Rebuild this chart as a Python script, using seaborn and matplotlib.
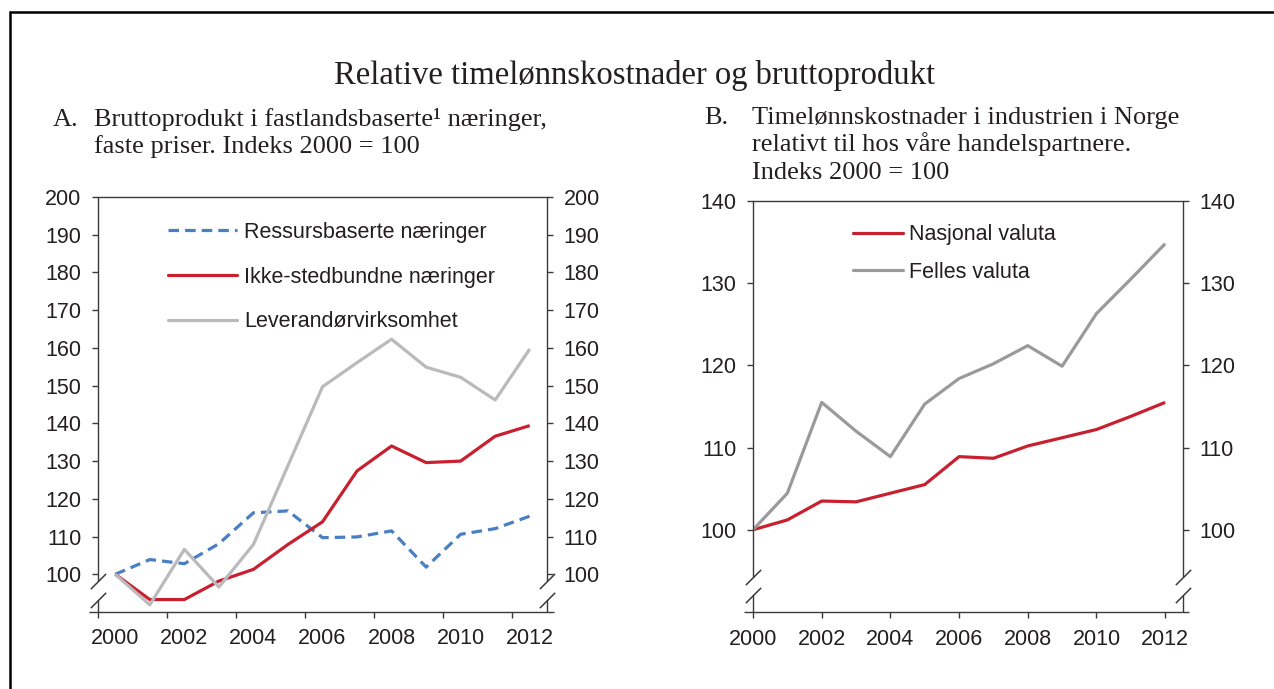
import matplotlib
matplotlib.use("Agg")
import pandas as pd
import matplotlib.pyplot as plt
import matplotlib.lines as mlines
import seaborn as sns

# Data
aar = list(range(2000, 2013))

# A. Bruttoprodukt, indeks 2000 = 100 (plotted at mid-year)
ressurs = [100, 103.9, 102.8, 108.1, 116.3, 116.8, 109.7, 109.9, 111.5, 101.9, 110.6, 112.1, 115.4]
ikke_stedbundne = [100, 93.3, 93.3, 98.2, 101.3, 107.9, 113.9, 127.4, 134.0, 129.6, 130.0, 136.6, 139.4]
leverandor = [100, 91.9, 106.6, 96.6, 107.9, 128.8, 149.7, 156.1, 162.3, 154.9, 152.2, 146.2, 159.7]
navn_a = ["Ressursbaserte næringer", "Ikke-stedbundne næringer", "Leverandørvirksomhet"]
farger_a = ["#4a7fc1", "#c8202f", "#bababd"]

# B. Timelønnskostnader relativt til handelspartnere
nasjonal = [100, 101.2, 103.5, 103.4, 104.45, 105.5, 108.9, 108.7, 110.2, 111.2, 112.2, 113.8, 115.5]
felles = [100, 104.45, 115.5, 112.0, 108.9, 115.3, 118.4, 120.2, 122.4, 119.9, 126.3, 130.5, 134.8]
navn_b = ["Nasjonal valuta", "Felles valuta"]
farger_b = ["#c8202f", "#9a9a9c"]

ticks_a = [100, 110, 120, 130, 140, 150, 160, 170, 180, 190, 200]
ticks_b = [100, 110, 120, 130, 140]
xticks = [2000, 2002, 2004, 2006, 2008, 2010, 2012]

df_a = pd.DataFrame({
    "aar": [a + 0.5 for a in aar] * 3,
    "verdi": ressurs + ikke_stedbundne + leverandor,
    "serie": [navn_a[0]] * 13 + [navn_a[1]] * 13 + [navn_a[2]] * 13,
})
df_b = pd.DataFrame({
    "aar": aar * 2,
    "verdi": nasjonal + felles,
    "serie": [navn_b[0]] * 13 + [navn_b[1]] * 13,
})

sns.set_theme(style="white")
plt.rcParams["font.family"] = ["Liberation Sans", "DejaVu Sans"]
SERIF = ["Liberation Serif", "DejaVu Serif"]
AKSE = "#3a3a3a"
TEKST = "#231f20"
LW = 2.3
FS = 15.5     # tick and legend text
FS_T = 19     # panel titles

fig = plt.figure(figsize=(12.74, 6.89), dpi=100)
W, H = 1274, 689


def akse(l, t, r, b):
    return fig.add_axes([l / W, 1 - b / H, (r - l) / W, (b - t) / H])


ax_a = akse(98, 197, 547, 612)
ax_b = akse(753, 201, 1183, 612)

sns.lineplot(data=df_a, x="aar", y="verdi", hue="serie", style="serie",
             palette=dict(zip(navn_a, farger_a)),
             dashes={navn_a[0]: (3.3, 1.9), navn_a[1]: "", navn_a[2]: ""},
             linewidth=LW, legend=False, ax=ax_a)
sns.lineplot(data=df_b, x="aar", y="verdi", hue="serie",
             palette=dict(zip(navn_b, farger_b)),
             linewidth=LW, legend=False, ax=ax_b)

for ax in (ax_a, ax_b):
    for ln in ax.get_lines():
        ln.set_solid_capstyle("butt")


def pynt(ax, ymin, ymax, yticks, xmax, brudd, xlabels_mid):
    ax.set_xlim(2000, xmax)
    ax.set_ylim(ymin, ymax)
    ax.set_yticks(yticks)
    ax.set_yticklabels([str(v) for v in yticks])
    ax.set_xlabel("")
    ax.set_ylabel("")
    if xlabels_mid:
        # ticks on the year boundaries, labels centred on the year
        ax.set_xticks(xticks)
        ax.set_xticklabels([])
        ax.set_xticks([x + 0.5 for x in xticks], minor=True)
        ax.set_xticklabels([str(x) for x in xticks], minor=True)
        ax.tick_params(axis="x", which="minor", length=0, pad=11.5,
                       labelsize=FS, labelcolor=TEKST)
    else:
        ax.set_xticks(xticks)
        ax.set_xticklabels([str(x) for x in xticks])
    ax.tick_params(axis="x", which="major", direction="out", length=4,
                   width=1, color=AKSE, pad=8, labelsize=FS, labelcolor=TEKST,
                   bottom=True)
    ax.tick_params(axis="y", direction="out", length=4, width=1, color=AKSE,
                   pad=8, labelsize=FS, labelcolor=TEKST,
                   left=True, right=True, labelleft=True, labelright=True)
    ax.grid(False)
    for s in ("left", "right", "bottom"):
        ax.spines[s].set_visible(False)
    ax.spines["top"].set_color(AKSE)
    ax.spines["top"].set_linewidth(1)

    # y spines with a break between lo and hi
    ytr = ax.get_yaxis_transform()
    lo, hi = brudd
    for xs in (0, 1):
        ax.plot([xs, xs], [ymin, lo], transform=ytr, color=AKSE, lw=1,
                clip_on=False, solid_capstyle="butt")
        ax.plot([xs, xs], [hi, ymax], transform=ytr, color=AKSE, lw=1,
                clip_on=False, solid_capstyle="butt")
        ax.plot([xs, xs], [lo, hi], transform=ytr, linestyle="none",
                marker=[(-1, -1), (1, 1)], markersize=11, mew=1.1,
                color=AKSE, clip_on=False)
    ax.plot([-0.021, 1.015], [0, 0], transform=ax.transAxes, color=AKSE,
            lw=1, clip_on=False, solid_capstyle="butt")


pynt(ax_a, 90, 200, ticks_a, 2013, (93.1, 98.1), True)
pynt(ax_b, 90, 140, ticks_b, 2012.52, (92.1, 94.2), False)

# legends
h_a = [mlines.Line2D([], [], color=farger_a[0], lw=LW, dashes=(3.3, 1.9)),
       mlines.Line2D([], [], color=farger_a[1], lw=LW),
       mlines.Line2D([], [], color=farger_a[2], lw=LW)]
ax_a.legend(h_a, navn_a, loc="upper left", bbox_to_anchor=(0.156, 0.94),
            frameon=False, fontsize=FS, handlelength=3.2, handletextpad=0.33,
            labelspacing=1.1, borderpad=0, borderaxespad=0,
            labelcolor=TEKST)
h_b = [mlines.Line2D([], [], color=farger_b[0], lw=LW),
       mlines.Line2D([], [], color=farger_b[1], lw=LW)]
ax_b.legend(h_b, navn_b, loc="upper left", bbox_to_anchor=(0.2326, 0.943),
            frameon=False, fontsize=FS, handlelength=2.33, handletextpad=0.28,
            labelspacing=0.76, borderpad=0, borderaxespad=0,
            labelcolor=TEKST)

# titles
fig.text(635 / W, 1 - 84 / H, "Relative timelønnskostnader og bruttoprodukt",
         ha="center", va="baseline", fontsize=23.5, family=SERIF, color=TEKST)

fig.text(53 / W, 1 - 126 / H, "A.", ha="left", va="baseline", fontsize=FS_T,
         family=SERIF, color=TEKST)
fig.text(94 / W, 1 - 126 / H, "Bruttoprodukt i fastlandsbaserte¹ næringer,",
         ha="left", va="baseline", fontsize=FS_T, family=SERIF, color=TEKST)
fig.text(94 / W, 1 - 153 / H, "faste priser. Indeks 2000 = 100",
         ha="left", va="baseline", fontsize=FS_T, family=SERIF, color=TEKST)

fig.text(704 / W, 1 - 124 / H, "B.", ha="left", va="baseline", fontsize=FS_T,
         family=SERIF, color=TEKST)
fig.text(752 / W, 1 - 124 / H, "Timelønnskostnader i industrien i Norge",
         ha="left", va="baseline", fontsize=FS_T, family=SERIF, color=TEKST)
fig.text(752 / W, 1 - 151 / H, "relativt til hos våre handelspartnere.",
         ha="left", va="baseline", fontsize=FS_T, family=SERIF, color=TEKST)
fig.text(752 / W, 1 - 179 / H, "Indeks 2000 = 100",
         ha="left", va="baseline", fontsize=FS_T, family=SERIF, color=TEKST)

# frame around the figure (open to right and bottom, as in the reference)
fig.add_artist(mlines.Line2D([10 / W, 10 / W], [0, 1 - 12 / H],
                             transform=fig.transFigure, color="black", lw=1.8))
fig.add_artist(mlines.Line2D([10 / W, 1], [1 - 12 / H, 1 - 12 / H],
                             transform=fig.transFigure, color="black", lw=1.8))

fig.savefig("out.png", dpi=100)
